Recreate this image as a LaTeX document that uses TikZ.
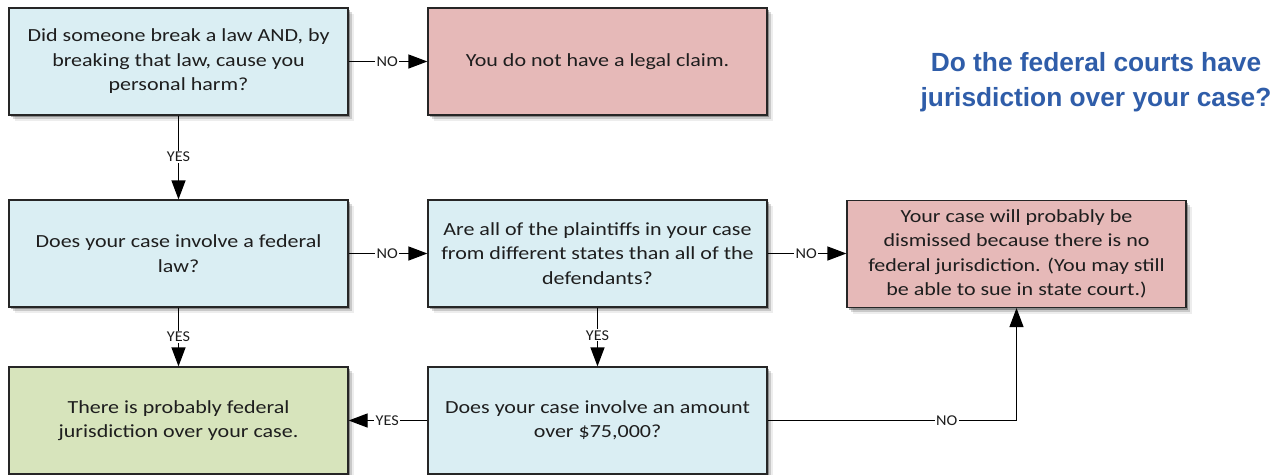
\documentclass[tikz,border=0pt]{standalone}
\usepackage{fontspec}
\setmainfont{Carlito}[FakeStretch=1.19]
\newfontfamily\titlefont{Liberation Sans}
\newfontfamily\labfont{Carlito}[FakeStretch=1.08]
\usetikzlibrary{arrows.meta,shadows}
\definecolor{qblue}{HTML}{DAEEF3}
\definecolor{qpink}{HTML}{E6B9B8}
\definecolor{qgreen}{HTML}{D7E4BC}
\definecolor{titleblue}{HTML}{2F5DA9}
\definecolor{txt}{HTML}{1E1E1E}
\begin{document}
\begin{tikzpicture}[x=1pt,y=-1pt,
  box/.style={draw=black!85, line width=1.2pt, minimum width=339pt, minimum height=107pt,
    inner sep=0pt, align=center, text=txt, font=\fontsize{18.5}{24.5}\selectfont,
    drop shadow={shadow xshift=2pt,shadow yshift=-2pt,opacity=.30,fill=black},
    drop shadow={shadow xshift=4pt,shadow yshift=-4pt,opacity=.15,fill=black},
    drop shadow={shadow xshift=6pt,shadow yshift=-6pt,opacity=.07,fill=black}},
  qbox/.style={box, fill=qblue},
  pbox/.style={box, fill=qpink},
  gbox/.style={box, fill=qgreen},
  lab/.style={fill=white, inner xsep=1.5pt, inner ysep=1pt, text=txt, font=\labfont\fontsize{15}{15}\selectfont},
  arr/.style={line width=1.2pt, draw=black, -{Triangle[length=19pt,width=14pt]}}
]
\fill[white] (0,0) rectangle (1273,474);
\useasboundingbox (0,0) rectangle (1273,474);

\node[qbox] (q1) at (178.5,61.5) {Did someone break a law AND, by\\breaking that law, cause you\\personal harm?};
\node[pbox] (noclaim) at (597.5,61.5) {You do not have a legal claim.};
\node[qbox] (q2) at (178.5,253.5) {Does your case involve a federal\\law?};
\node[qbox] (q3) at (597.5,253.5) {Are all of the plaintiffs in your case\\from different states than all of the\\defendants?};
\node[pbox] (dismiss) at (1016.5,254) {Your case will probably be\\dismissed because there is no\\federal jurisdiction. (You may still\\be able to sue in state court.)};
\node[gbox] (fed) at (178.5,420.5) {There is probably federal\\jurisdiction over your case.};
\node[qbox] (q4) at (597.5,420.5) {Does your case involve an amount\\over \$75,000?};

\node[font=\titlefont\bfseries\fontsize{26.3}{35}\selectfont, text=titleblue, align=center] (title) at (1096,82) {Do the federal courts have\\jurisdiction over your case?};

\draw[arr] (q1) -- node[lab,pos=0.49] {NO} (noclaim);
\draw[arr] (q1) -- node[lab,pos=0.49] {YES} (q2);
\draw[arr] (q2) -- node[lab,pos=0.49] {NO} (q3);
\draw[arr] (q3) -- node[lab,pos=0.49] {NO} (dismiss.west |- q3);
\draw[arr] (q2) -- node[lab,pos=0.5] {YES} (fed);
\draw[arr] (q3) -- node[lab,pos=0.47] {YES} (q4);
\draw[arr] (q4) -- node[lab,pos=0.51] {YES} (fed);
\draw[arr] (q4.east) -| node[lab,pos=0.36] {NO} (dismiss.south);
\end{tikzpicture}
\end{document}
